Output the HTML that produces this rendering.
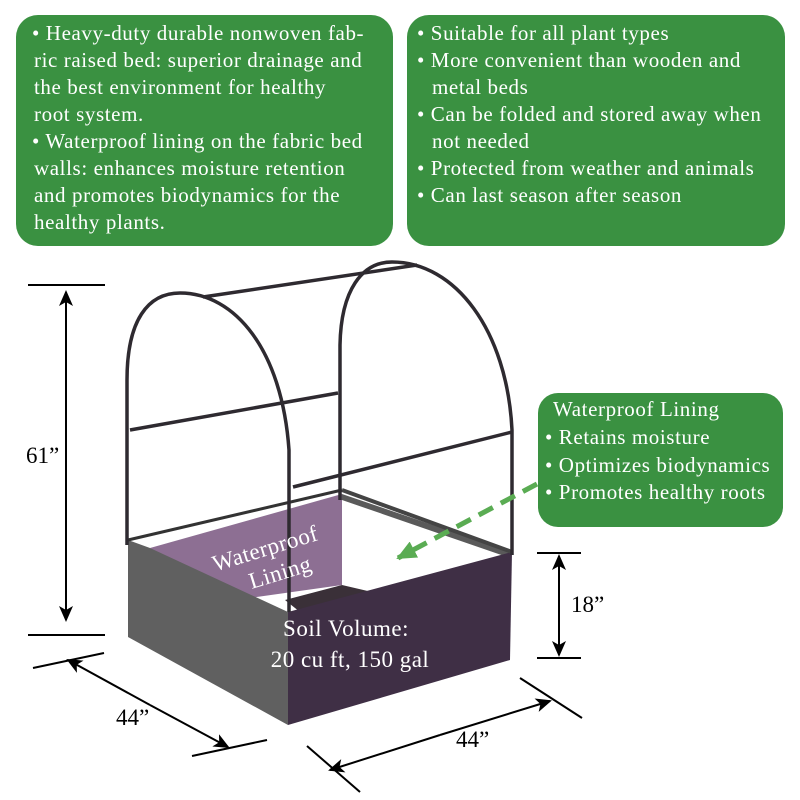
<!DOCTYPE html>
<html><head><meta charset="utf-8"><style>
html,body{margin:0;padding:0;background:#fff}
svg{display:block}
text{font-family:"Liberation Serif",serif}
</style></head><body>
<svg width="800" height="800" viewBox="0 0 800 800" xmlns="http://www.w3.org/2000/svg">
<defs>
<marker id="ah2" markerWidth="16" markerHeight="14" refX="14" refY="7" orient="auto" markerUnits="userSpaceOnUse" viewBox="0 0 16 14"><path d="M0,0 L16,7 L0,14 L4,7 z" fill="#000"/></marker>
<marker id="gh" markerWidth="20" markerHeight="18" refX="18" refY="9" orient="auto" markerUnits="userSpaceOnUse" viewBox="0 0 20 18"><path d="M0,0 L20,9 L0,18 z" fill="#5aac53"/></marker>
</defs>
<!-- green boxes -->
<rect x="16" y="15" width="377" height="231" rx="22" fill="#3a9141"/>
<rect x="407" y="15" width="378" height="231" rx="22" fill="#3a9141"/>
<rect x="538" y="393" width="245" height="134" rx="20" fill="#3a9141"/>
<g fill="#fff" font-size="21" letter-spacing="0.6">
<text x="32" y="40">• Heavy-duty durable nonwoven fab-</text>
<text x="34" y="67">ric raised bed: superior drainage and</text>
<text x="34" y="94">the best environment for healthy</text>
<text x="34" y="121">root system.</text>
<text x="32" y="148">• Waterproof lining on the fabric bed</text>
<text x="34" y="175">walls: enhances moisture retention</text>
<text x="34" y="202">and promotes biodynamics for the</text>
<text x="34" y="229">healthy plants.</text>
<text x="417" y="40">• Suitable for all plant types</text>
<text x="417" y="67">• More convenient than wooden and</text>
<text x="432" y="94">metal beds</text>
<text x="417" y="121">• Can be folded and stored away when</text>
<text x="432" y="148">not needed</text>
<text x="417" y="175">• Protected from weather and animals</text>
<text x="417" y="202">• Can last season after season</text>
<text x="553" y="416">Waterproof Lining</text>
<text x="545" y="444">• Retains moisture</text>
<text x="545" y="472">• Optimizes biodynamics</text>
<text x="545" y="499">• Promotes healthy roots</text>
</g>
<!-- bed -->
<polygon points="150,548 342,494 342,585 200,605" fill="#8d6f93"/>
<polygon points="342,494 512,552 510,558 342,500" fill="#5a5a5a"/>
<polygon points="285,600 342,585 372,592 300,612" fill="#3a3038"/>
<polygon points="128,540 150,548 288,612 288,725 128,637" fill="#606060"/>
<polygon points="288,612 512,552 510,660 288,725" fill="#3f2f45"/>
<line x1="128" y1="540" x2="342" y2="490" stroke="#333" stroke-width="3"/>
<line x1="342" y1="490" x2="512" y2="552" stroke="#444" stroke-width="4"/>
<!-- frame -->
<g fill="none" stroke="#2e2a30" stroke-width="3.5">
<path d="M127,545 L127,380 C127,320 148,293 180,293 C235,293 282,350 289,450 L289,612"/>
<path d="M340,500 L340,345 C341,290 362,262 392,262 C455,262 507,330 512,430 L512,555"/>
<line x1="203" y1="297" x2="417" y2="265"/>
<line x1="130" y1="430" x2="338" y2="393"/>
<line x1="293" y1="487" x2="512" y2="432"/>
</g>
<g fill="#fff" font-size="23" letter-spacing="0.5" text-anchor="middle">
<text x="265" y="556" transform="rotate(-17 265 548)">Waterproof</text>
<text x="280" y="580" transform="rotate(-17 280 572)">Lining</text>
<text x="346" y="636">Soil Volume:</text>
<text x="350" y="667">20 cu ft, 150 gal</text>
</g>
<!-- green dashed arrow -->
<line x1="537" y1="484" x2="398" y2="558" stroke="#5aac53" stroke-width="5" stroke-dasharray="16,9" marker-end="url(#gh)"/>
<!-- dimensions -->
<g stroke="#000" stroke-width="2">
<line x1="28" y1="285" x2="105" y2="285"/>
<line x1="28" y1="635" x2="105" y2="635"/>
<line x1="66" y1="460" x2="66" y2="620" marker-end="url(#ah2)"/>
<line x1="66" y1="460" x2="66" y2="292" marker-end="url(#ah2)"/>
<line x1="537" y1="553" x2="581" y2="553"/>
<line x1="537" y1="658" x2="581" y2="658"/>
<line x1="559" y1="600" x2="559" y2="556" marker-end="url(#ah2)"/>
<line x1="559" y1="600" x2="559" y2="655" marker-end="url(#ah2)"/>
<line x1="33" y1="668" x2="104" y2="653"/>
<line x1="192" y1="756" x2="267" y2="740"/>
<line x1="150" y1="705" x2="228" y2="747" marker-end="url(#ah2)"/>
<line x1="150" y1="705" x2="68" y2="660" marker-end="url(#ah2)"/>
<line x1="307" y1="746" x2="360" y2="792"/>
<line x1="520" y1="678" x2="582" y2="718"/>
<line x1="440" y1="735" x2="550" y2="701" marker-end="url(#ah2)"/>
<line x1="440" y1="735" x2="330" y2="770" marker-end="url(#ah2)"/>
</g>
<g fill="#000" font-size="23">
<text x="26" y="463">61”</text>
<text x="571" y="612">18”</text>
<text x="116" y="725">44”</text>
<text x="456" y="747">44”</text>
</g>
</svg>
</body></html>
